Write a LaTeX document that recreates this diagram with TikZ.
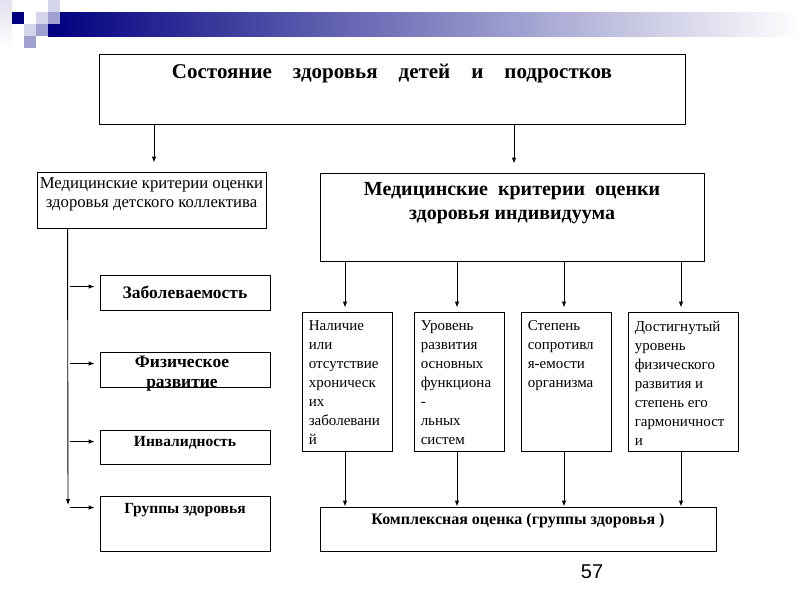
\documentclass[tikz,border=0pt]{standalone}
\usepackage{fontspec}
\setmainfont{Liberation Serif}
\newfontfamily\numfont{Liberation Sans}
\usetikzlibrary{arrows.meta,positioning}

\definecolor{hdnavy}{RGB}{0,0,128}
\definecolor{hdmid}{RGB}{160,160,208}
\definecolor{hdlight}{RGB}{212,212,234}
\definecolor{hdpale}{RGB}{226,226,240}

\tikzset{
  box/.style={draw, line width=0.9pt, inner sep=0pt},
  arr/.style={-{Latex[length=6pt,width=4.5pt]}, line width=0.9pt},
  ttl/.style={font=\fontsize{21}{25}\selectfont\bfseries, align=center, inner sep=0pt},
  crit/.style={font=\fontsize{16.7}{19}\selectfont, align=center, inner sep=0pt},
  critb/.style={font=\fontsize{20}{24}\selectfont\bfseries, align=center, inner sep=0pt},
  itm/.style={font=\fontsize{15.5}{20}\selectfont\bfseries, align=center, inner sep=0pt},
  itmbig/.style={itm, font=\fontsize{17.5}{20}\selectfont\bfseries},
  sub/.style={font=\fontsize{15}{19}\selectfont, align=left, anchor=north west, inner sep=0pt},
}

\begin{document}
\begin{tikzpicture}[x=1pt,y=-1pt]
\useasboundingbox (0,0) rectangle (800,600);

% header
\shade[left color=hdnavy, right color=white] (48,12) rectangle (800,36);
\shade[top color=hdpale, bottom color=white] (0,0) rectangle (12,48);
\fill[hdnavy] (12,12) rectangle (24,24);
\fill[white] (24,12) rectangle (36,24);
\fill[hdlight] (36,12) rectangle (48,24);
\fill[hdlight] (48,0) rectangle (60,12);
\fill[hdmid] (48,12) rectangle (60,24);
\fill[hdlight] (24,24) rectangle (36,36);
\fill[hdmid] (36,24) rectangle (48,36);
\fill[hdmid] (24,36) rectangle (36,48);

% top
\node[box, minimum width=586, minimum height=70] (state) at (392,89) {};
\node[ttl] (stateT) at (392,74) {Состояние\quad здоровья\quad детей\quad и\quad подростков};

% two branches
\node[box, minimum width=229, minimum height=56] (coll) at (151.5,200) {};
\node[crit] (collT) at (151.5,194) {Медицинские критерии оценки\\здоровья детского коллектива};
\node[box, minimum width=384, minimum height=88] (indiv) at (512,217) {};
\node[critb] (indivT) at (512,203) {Медицинские\enspace критерии\enspace оценки\\здоровья индивидуума};

\draw[arr, shorten >=9pt] ([xshift=2.5pt]coll.north |- state.south) -- ([xshift=2.5pt]coll.north);
\draw[arr, shorten >=9pt] ([xshift=2pt]indiv.north |- state.south) -- ([xshift=2pt]indiv.north);

% collective criteria
\node[box, minimum width=170, minimum height=35] (zab) at (185,292.5) {};
\node[itmbig] (zabT) at (185,292) {Заболеваемость};
\node[box, minimum width=170, minimum height=35] (fiz) at (185,369.5) {};
\node[itmbig] (fizT) at (182,374) {Физическое\\развитие};
\node[box, minimum width=170, minimum height=34] (inv) at (185,447) {};
\node[itm] (invT) at (185,443) {Инвалидность};
\node[box, minimum width=170, minimum height=55] (grp) at (185,523.5) {};
\node[itm] (grpT) at (185,510) {Группы здоровья};

\coordinate (spine) at ([xshift=31pt]coll.south west);
\coordinate (spineEnd) at (68,505);
\draw[arr] (spine) -- (spineEnd);
\foreach \b in {zab,fiz,inv,grp}{
  \coordinate (\b in) at ([yshift=-12pt]\b.north west);
  \draw[arr, shorten <=2pt, shorten >=5pt] (spine |- \b in) -- (\b in);
}

% individual criteria
\node[box, minimum width=90, minimum height=139] (b1) at (347,381.5) {};
\node[box, minimum width=90, minimum height=139] (b2) at (459,381.5) {};
\node[box, minimum width=90, minimum height=139] (b3) at (566,381.5) {};
\node[box, minimum width=110, minimum height=139] (b4) at (683,381.5) {};
\node[sub] (b1T) at ([shift={(7pt,-9pt)}]b1.north west) {Наличие\\или\\отсутствие\\хроническ\\их\\заболевани\\й};
\node[sub] (b2T) at ([shift={(7pt,-9pt)}]b2.north west) {Уровень\\развития\\основных\\функциона\\-\\льных\\систем};
\node[sub] (b3T) at ([shift={(7pt,-9pt)}]b3.north west) {Степень\\сопротивл\\я-емости\\организма};
\node[sub] (b4T) at ([shift={(7pt,-9pt)}]b4.north west) {Достигнутый\\уровень\\физического\\развития и\\степень его\\гармоничност\\и};

\node[box, minimum width=396, minimum height=44] (compl) at (518,529) {};
\node[itm, font=\fontsize{16}{20}\selectfont\bfseries] (complT) at (518,521) {Комплексная оценка (группы здоровья )};

\foreach \b in {b1,b2,b3,b4}{
  \draw[arr, shorten >=4pt] ([xshift=-2pt]\b.north |- indiv.south) -- ([xshift=-2pt]\b.north);
  \draw[arr] ([xshift=-2pt]\b.south) -- ([xshift=-2pt]\b.south |- compl.north);
}

\node[font=\numfont\fontsize{20}{24}\selectfont, inner sep=0pt] (page) at (592,572) {57};
\end{tikzpicture}
\end{document}
